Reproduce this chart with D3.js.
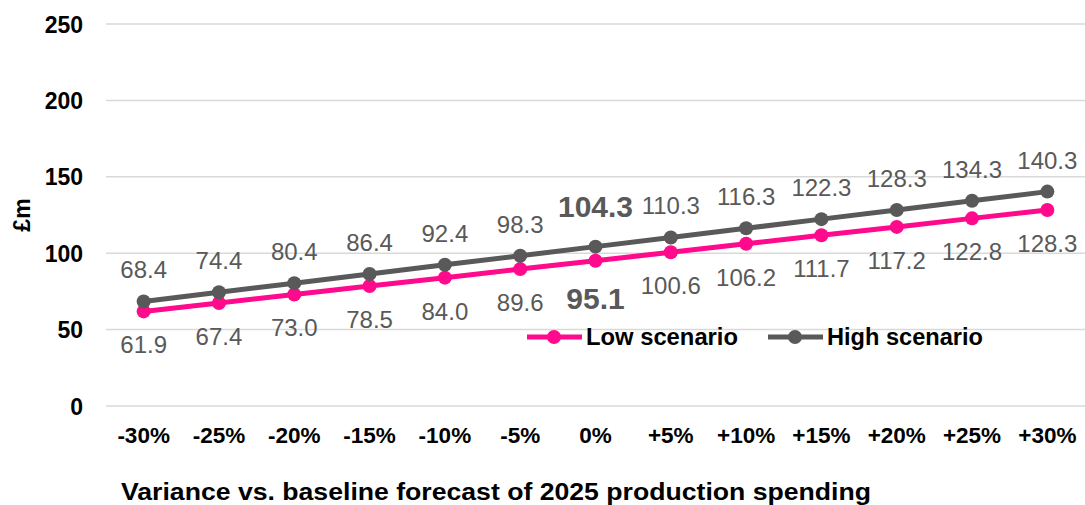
<!DOCTYPE html>
<html><head><meta charset="utf-8">
<script src="https://cdn.jsdelivr.net/npm/d3@7"></script>
<style>body{margin:0;background:#fff}svg{display:block;font-family:"Liberation Sans",Arial,sans-serif}</style>
</head><body><svg id="c" width="1085" height="505"></svg>
<script>
const categories = ["-30%","-25%","-20%","-15%","-10%","-5%","0%","+5%","+10%","+15%","+20%","+25%","+30%"];
const lowValues  = [61.9,67.4,73.0,78.5,84.0,89.6,95.1,100.6,106.2,111.7,117.2,122.8,128.3];
const highValues = [68.4,74.4,80.4,86.4,92.4,98.3,104.3,110.3,116.3,122.3,128.3,134.3,140.3];
const yTicks = [0,50,100,150,200,250];
const seriesNames = ["Low scenario","High scenario"];
const baselineCategory = "0%";

(function(){
const svg = d3.select("#c");
const mLeft = 106, mRight = 1085, mTop = 24, mBottom = 406;
const x = d3.scaleBand().domain(categories).range([mLeft,mRight]);
const y = d3.scaleLinear().domain([0,250]).range([mBottom,mTop]);
const cx = d => x(d) + x.bandwidth()/2;
const PINK = "#FF0A8C", GRAY = "#595959";

svg.append("g").selectAll("line").data(yTicks).join("line")
  .attr("x1",mLeft).attr("x2",mRight).attr("y1",d=>y(d)).attr("y2",d=>y(d))
  .attr("stroke","#d9d9d9").attr("stroke-width",1.5);

svg.append("g").selectAll("text").data(yTicks).join("text")
  .attr("x",83).attr("y",d=>y(d)+8.5).attr("text-anchor","end")
  .attr("font-size",23).attr("font-weight","bold").attr("fill","#000").text(d=>d);

svg.append("g").selectAll("text").data(categories).join("text")
  .attr("x",d=>cx(d)).attr("y",443).attr("text-anchor","middle")
  .attr("font-size",22.5).attr("font-weight","bold").attr("fill","#000").text(d=>d);

svg.append("text").attr("transform","translate(30,215) rotate(-90)").attr("text-anchor","middle")
  .attr("font-size",23).attr("font-weight","bold").text("£m");
svg.append("text").attr("x",496).attr("y",500).attr("text-anchor","middle")
  .attr("font-size",23).attr("font-weight","bold")
  .attr("textLength",750).attr("lengthAdjust","spacingAndGlyphs")
  .text("Variance vs. baseline forecast of 2025 production spending");

const line = d3.line().x((d,i)=>cx(categories[i])).y(d=>y(d));
function drawSeries(vals,color){
  svg.append("path").datum(vals).attr("d",line).attr("fill","none")
    .attr("stroke",color).attr("stroke-width",5).attr("stroke-linejoin","round");
  svg.append("g").selectAll("circle").data(vals).join("circle")
    .attr("cx",(d,i)=>cx(categories[i])).attr("cy",d=>y(d)).attr("r",7).attr("fill",color);
}
drawSeries(lowValues,PINK);
drawSeries(highValues,GRAY);

svg.append("g").selectAll("text").data(highValues).join("text")
  .attr("x",(d,i)=>cx(categories[i]))
  .attr("y",(d,i)=>categories[i]===baselineCategory ? y(d)-30 : y(d)-23)
  .attr("text-anchor","middle").attr("fill",GRAY)
  .attr("font-size",(d,i)=>categories[i]===baselineCategory?30:24)
  .attr("font-weight",(d,i)=>categories[i]===baselineCategory?"bold":"normal")
  .text(d=>d.toFixed(1));
svg.append("g").selectAll("text").data(lowValues).join("text")
  .attr("x",(d,i)=>cx(categories[i]))
  .attr("y",(d,i)=>categories[i]===baselineCategory ? y(d)+48 : y(d)+42)
  .attr("text-anchor","middle").attr("fill",GRAY)
  .attr("font-size",(d,i)=>categories[i]===baselineCategory?30:24)
  .attr("font-weight",(d,i)=>categories[i]===baselineCategory?"bold":"normal")
  .text(d=>d.toFixed(1));

const legend = [{name:seriesNames[0],color:PINK,x:527,w:152},{name:seriesNames[1],color:GRAY,x:768,w:156}];
const lg = svg.append("g").selectAll("g").data(legend).join("g").attr("transform",d=>`translate(${d.x},337)`);
lg.append("line").attr("x1",0).attr("x2",55).attr("stroke",d=>d.color).attr("stroke-width",5);
lg.append("circle").attr("cx",27).attr("r",7).attr("fill",d=>d.color);
lg.append("text").attr("x",59).attr("y",7.5).attr("font-size",23).attr("font-weight","bold")
  .attr("textLength",d=>d.w).attr("lengthAdjust","spacingAndGlyphs").text(d=>d.name);
})();
</script></body></html>
